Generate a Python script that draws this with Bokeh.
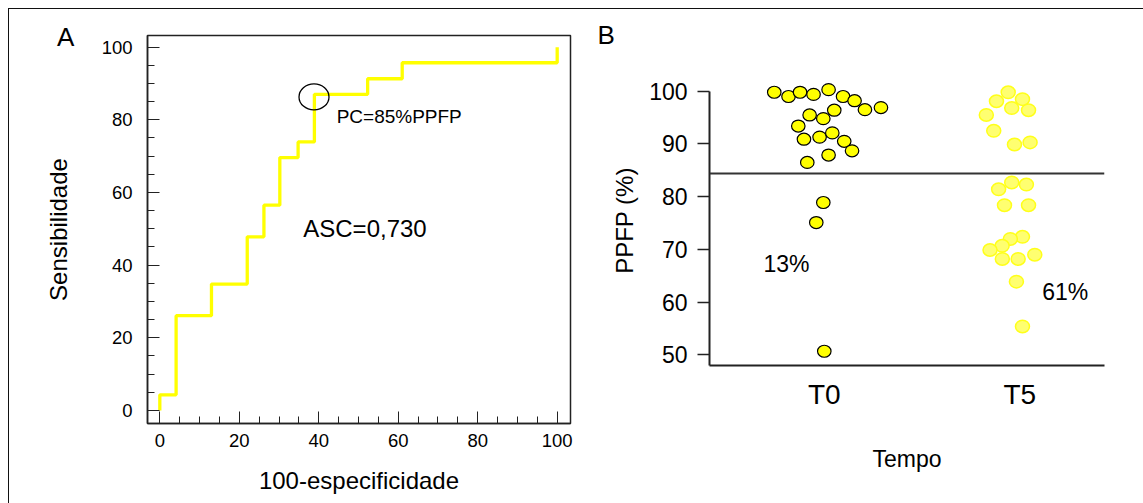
from bokeh.plotting import figure
from bokeh.models import Range1d, FixedTicker, Span, Label
from bokeh.layouts import row
from bokeh.embed import file_html
from bokeh.resources import INLINE

# ---------------- data ----------------
# Panel A: ROC curve (step corners)
roc_fpr = [0.0, 4.1, 13.0, 22.0, 26.2, 30.2, 34.8, 38.9, 52.3, 61.0, 100.0]
roc_sens = [4.3, 26.1, 34.8, 47.8, 56.5, 69.6, 73.9, 87.0, 91.3, 95.7, 100.0]
cut_point_x = [38.8]
cut_point_y = [86.3]
cut_text = "PC=85%PPFP"
auc_text = "ASC=0,730"
roc_ticks = [0, 20, 40, 60, 80, 100]

# Panel B: PPFP (%) per time point
groups = ["T0", "T5"]
t0_vals = [99.8, 99.0, 99.8, 99.4, 100.3, 99.0, 98.2, 96.5, 96.9, 95.5, 96.4, 94.8,
           93.4, 90.9, 91.3, 92.1, 90.5, 88.7, 87.9, 86.5, 78.9, 75.1, 50.7]
t0_jitter = [-0.256, -0.183, -0.124, -0.055, 0.022, 0.096, 0.155, 0.208, 0.290, -0.075,
             0.051, -0.005, -0.133, -0.104, -0.024, 0.041, 0.102, 0.142, 0.022, -0.087,
             -0.005, -0.041, 0.0]
t5_vals = [99.8, 98.1, 98.5, 96.8, 96.4, 95.5, 92.5, 89.9, 90.3, 82.7, 81.4, 82.3,
           78.4, 78.4, 72.4, 72.0, 70.7, 69.9, 68.2, 68.2, 69.0, 63.9, 55.4]
t5_jitter = [-0.059, -0.119, 0.014, -0.041, 0.045, -0.171, -0.133, -0.027, 0.053, -0.041,
             -0.108, 0.034, -0.078, 0.045, 0.014, -0.048, -0.090, -0.152, -0.089, -0.008,
             0.077, -0.017, 0.014]
threshold = 84.4
pct_labels = ["13%", "61%"]
pct_label_y = [67.3, 62.0]
ppfp_ticks = [50, 60, 70, 80, 90, 100]
ppfp_axis_min = 48

FONT = "Liberation Sans"
AX = "#222222"

# ---------------- Panel A ----------------
xs, ys = [roc_fpr[0]], [0.0]
for i, (f, s) in enumerate(zip(roc_fpr, roc_sens)):
    xs.append(f); ys.append(s)
    if i + 1 < len(roc_fpr):
        xs.append(roc_fpr[i + 1]); ys.append(s)

pA = figure(width=581, height=494, output_backend="svg", toolbar_location=None,
            x_range=Range1d(-3.1, 103.35), y_range=Range1d(-3.58, 103.2),
            min_border_left=138, min_border_right=20, min_border_top=26, min_border_bottom=80,
            frame_align=False)
pA.grid.visible = False
pA.outline_line_color = AX
pA.outline_line_width = 1.5

for ax in (pA.xaxis[0], pA.yaxis[0]):
    ax.ticker = FixedTicker(ticks=roc_ticks, minor_ticks=list(range(0, 101, 5)))
    ax.major_tick_in = 12
    ax.major_tick_out = 0
    ax.minor_tick_in = 7
    ax.minor_tick_out = 0
    ax.major_tick_line_color = AX
    ax.minor_tick_line_color = AX
    ax.axis_line_color = AX
    ax.axis_line_width = 1.5
    ax.major_label_text_font = FONT
    ax.major_label_text_font_size = "18.5px"
    ax.major_label_text_color = "black"
    ax.axis_label_text_font = FONT
    ax.axis_label_text_font_size = "24px"
    ax.axis_label_text_font_style = "normal"
    ax.axis_label_text_color = "black"

pA.xaxis.axis_label = "100-especificidade"
pA.yaxis.axis_label = "Sensibilidade"
pA.xaxis.major_label_standoff = 10
pA.xaxis.axis_label_standoff = 17
pA.yaxis.major_label_standoff = 15
pA.yaxis.axis_label_standoff = 27

pA.line(xs, ys, line_color="#ffff00", line_width=3.3)
pA.ellipse(x=cut_point_x, y=cut_point_y, width=30, height=26,
           width_units="screen", height_units="screen",
           fill_color=None, line_color="black", line_width=1.3)
pA.add_layout(Label(x=44.5, y=81.0, text=cut_text, text_font=FONT, text_font_size="19px",
                    text_align="left", text_baseline="middle", text_color="black"))
pA.add_layout(Label(x=36.1, y=50.0, text=auc_text, text_font=FONT, text_font_size="24px",
                    text_align="left", text_baseline="middle", text_color="black"))
pA.add_layout(Label(x=-23.7, y=102.9, text="A", text_font=FONT, text_font_size="26px",
                    text_align="center", text_baseline="middle", text_color="black"), "left")

# ---------------- Panel B ----------------
group_pos = [i + 1 for i in range(len(groups))]

pB = figure(width=553, height=494, output_backend="svg", toolbar_location=None,
            x_range=Range1d(0.4127, 2.4337), y_range=Range1d(ppfp_axis_min, 102.98),
            min_border_left=119, min_border_right=39, min_border_top=66, min_border_bottom=138,
            frame_align=False)
pB.grid.visible = False
pB.outline_line_color = None

pB.yaxis.bounds = (ppfp_axis_min, 100)
pB.yaxis.ticker = FixedTicker(ticks=ppfp_ticks)
pB.yaxis.major_tick_out = 12
pB.yaxis.major_tick_in = 0
pB.yaxis.minor_tick_line_color = None
pB.yaxis.major_label_standoff = 10
pB.yaxis.major_label_text_font_size = "23px"
pB.yaxis.axis_label = "PPFP (%)"
pB.yaxis.axis_label_standoff = 8

pB.xaxis.ticker = FixedTicker(ticks=group_pos)
pB.xaxis.major_label_overrides = {p: g for p, g in zip(group_pos, groups)}
pB.xaxis.minor_tick_line_color = None
pB.xaxis.major_label_standoff = 7
pB.xaxis.major_label_text_font_size = "28px"
pB.xaxis.axis_label = "Tempo"
pB.xaxis.axis_label_standoff = 33

for ax in (pB.xaxis[0], pB.yaxis[0]):
    ax.axis_line_color = AX
    ax.axis_line_width = 2
    ax.major_tick_line_width = 1.3
    ax.major_label_text_font = FONT
    ax.major_label_text_color = "black"
    ax.axis_label_text_font = FONT
    ax.axis_label_text_font_style = "normal"
    ax.axis_label_text_color = "black"
pB.yaxis.major_tick_line_color = AX
pB.xaxis.major_tick_line_color = None
pB.yaxis.axis_label_text_font_size = "24px"
pB.xaxis.axis_label_text_font_size = "23px"

pB.add_layout(Span(location=threshold, dimension="width", line_color="#333333", line_width=2))

pB.ellipse(x=[group_pos[0] + j for j in t0_jitter], y=t0_vals, width=13.5, height=12,
           width_units="screen", height_units="screen",
           fill_color="#ffff00", line_color="black", line_width=1.2)
pB.ellipse(x=[group_pos[1] + j for j in t5_jitter], y=t5_vals, width=14, height=12.5,
           width_units="screen", height_units="screen",
           fill_color="#ffff70", line_color="#ffff1a", line_width=1.5)

pB.add_layout(Label(x=group_pos[0] - 0.311, y=pct_label_y[0], text=pct_labels[0], text_font=FONT,
                    text_font_size="23px", text_align="left", text_baseline="middle",
                    text_color="black"))
pB.add_layout(Label(x=group_pos[1] + 0.115, y=pct_label_y[1], text=pct_labels[1], text_font=FONT,
                    text_font_size="23px", text_align="left", text_baseline="middle",
                    text_color="black"))
pB.add_layout(Label(x=-0.116, y=110.6, text="B", text_font=FONT, text_font_size="26px",
                    text_align="center", text_baseline="middle", text_color="black"), "above")

layout = row(pA, pB, margin=(8, 0, 0, 8),
             styles={"border-top": "1px solid #111", "border-left": "1px solid #111"})

open("out.html", "w").write(file_html(layout, INLINE))
